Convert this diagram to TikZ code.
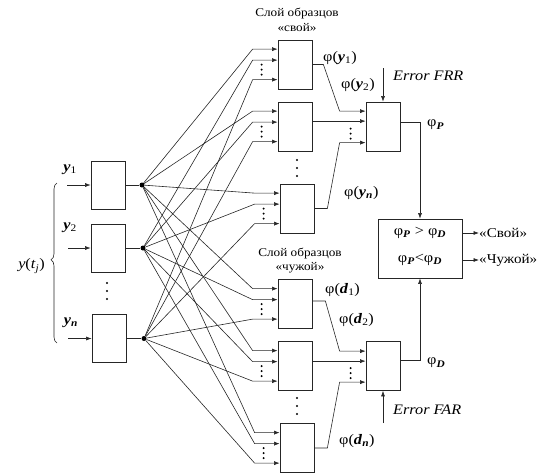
\documentclass[tikz,border=0pt]{standalone}
\usepackage{fontspec}
\setmainfont{Liberation Serif}[FakeStretch=1.12]
\usetikzlibrary{arrows.meta,calc,decorations.pathreplacing}
\newcommand{\bvar}[1]{\textbf{\textit{#1}}}
\begin{document}
\begin{tikzpicture}[x=1pt,y=-1pt,
  box/.style={draw=black!85, line width=0.75pt, minimum width=34pt, minimum height=49pt, inner sep=0pt},
  arr/.style={-{Latex[length=5.5pt,width=4pt]}},
  wire/.style={draw=black!85, line width=0.6pt},
  jdot/.style={circle, fill=black, inner sep=0pt, minimum size=5pt},
  lab/.style={font=\fontsize{14.5}{16}\selectfont, inner sep=0pt},
  ttl/.style={font=\fontsize{11.8}{13}\selectfont, inner sep=0pt},
  outl/.style={font=\fontsize{13.5}{15}\selectfont, inner sep=0pt}
]
\useasboundingbox (0,0) rectangle (542,475);

% ---------- input layer ----------
\node[box, minimum height=48pt] (I1) at (108,185) {};
\node[box, minimum height=48pt] (I2) at (108,248) {};
\node[box, minimum height=48pt] (In) at (109,338.5) {};
\foreach \yy in {283,291,299} \fill (107,\yy) circle (1.1pt);

\node[lab] (ly1) at (70,170) {\bvar{y}\textsubscript{1}};
\node[lab] (ly2) at (70,228) {\bvar{y}\textsubscript{2}};
\node[lab] (lyn) at (71,323) {\bvar{y}\textsubscript{\bvar{n}}};
\coordinate (x1) at (67,185);
\coordinate (x2) at (68,248);
\coordinate (xn) at (68,338.5);
\draw[wire,arr] (x1) -- (I1.west);
\draw[wire,arr] (x2) -- (I2.west);
\draw[wire,arr] (xn) -- (In.west);

\draw[wire, decorate, decoration={brace, amplitude=6pt, aspect=0.52}] (57,343) -- (57,183);
\node[lab, anchor=east] (ytj) at (45,266) {\textit{y}(\textit{t}\textsubscript{\textit{j}})};

\node[jdot] (d1) at (142,185) {};
\node[jdot] (d2) at (143,248) {};
\node[jdot] (dn) at (144,338.5) {};
\draw[wire] (I1.east) -- (d1);
\draw[wire] (I2.east) -- (d2);
\draw[wire] (In.east) -- (dn);

% ---------- pattern layers ----------
\foreach \b/\cx/\cy in {P1/295/64.5, P2/295/126.5, P3/297/208.5, D1/295/304, D2/295/366, D3/297/448}
  \node[box] (\b) at (\cx,\cy) {};

\foreach \b in {P1,P2,P3,D1,D2,D3}{
  \draw[wire,arr] (d1) -- ($(\b.north west)+(-25,9.5)$) -- ($(\b.north west)+(0,9.5)$);
  \draw[wire,arr] (d2) -- ($(\b.north west)+(-25,20.5)$) -- ($(\b.north west)+(0,20.5)$);
  \draw[wire,arr] (dn) -- ($(\b.north west)+(-25,40)$) -- ($(\b.north west)+(0,40)$);
  \foreach \dy in {25,30,35} \fill ($(\b.north west)+(-16,\dy)$) circle (1.1pt);
}
\foreach \yy in {160,168,176} \fill (297,\yy) circle (1.1pt);
\foreach \yy in {398,406,414} \fill (297,\yy) circle (1.1pt);

\node[ttl] (t1) at (297,14) {Слой образцов};
\node[ttl] (t2) at (297,28) {«свой»};
\node[ttl] (t3) at (300,254) {Слой образцов};
\node[ttl] (t4) at (300,268) {«чужой»};

% ---------- summing boxes ----------
\node[box] (S1) at (383,126.5) {};
\node[box] (S2) at (383,366) {};
\coordinate (S1b) at ($(S1.north west)+(0,19.5)$);
\coordinate (S2b) at ($(S2.north west)+(0,20)$);

\draw[wire,arr] (P1.east) -- ++(11,0) -- ($(S1.north west)+(-26,9.5)$) -- ($(S1.north west)+(0,9.5)$);
\draw[wire,arr] (P2.east |- S1b) -- (S1b);
\draw[wire,arr] (P3.east) -- ++(13,0) -- ($(S1.north west)+(-26,41)$) -- ($(S1.north west)+(0,41)$);
\draw[wire,arr] ($(D1.east)+(0,-3)$) -- ++(13,0) -- ($(S2.north west)+(-26,10)$) -- ($(S2.north west)+(0,10)$);
\draw[wire,arr] (D2.east |- S2b) -- (S2b);
\draw[wire,arr] (D3.east) -- ++(13,0) -- ($(S2.north west)+(-26,41)$) -- ($(S2.north west)+(0,41)$);
\foreach \dy in {27,32,37} {
  \fill ($(S1.north west)+(-15,\dy)$) circle (1.1pt);
  \fill ($(S2.north west)+(-15,\dy)$) circle (1.1pt);
}

\node[lab, anchor=west] (py1) at (323,58) {φ(\bvar{y}\textsubscript{1})};
\node[lab, anchor=west] (py2) at (341,85) {φ(\bvar{y}\textsubscript{2})};
\node[lab, anchor=west] (pyn) at (344,193) {φ(\bvar{y}\textsubscript{\bvar{n}})};
\node[lab, anchor=west] (pd1) at (325,290) {φ(\bvar{d}\textsubscript{1})};
\node[lab, anchor=west] (pd2) at (339,320) {φ(\bvar{d}\textsubscript{2})};
\node[lab, anchor=west] (pdn) at (339,441) {φ(\bvar{d}\textsubscript{\bvar{n}})};

\coordinate (frr) at (383,68);
\coordinate (far) at (383,423);
\draw[wire,arr] (frr) -- (S1.north);
\draw[wire,arr] (far) -- (S2.south);
\node[lab, anchor=west] (frrl) at (393,76) {\textit{Error FRR}};
\node[lab, anchor=west] (farl) at (393,410) {\textit{Error FAR}};

% ---------- decision ----------
\node[box, minimum width=84pt, minimum height=59pt] (dec) at (420,248.5) {};
\node[lab] (c1) at (420,233) {φ\textsubscript{\bvar{P}} > φ\textsubscript{\bvar{D}}};
\node[lab] (c2) at (420,260) {φ\textsubscript{\bvar{P}}<φ\textsubscript{\bvar{D}}};
\draw[wire,arr] ($(S1.east)+(0,-4)$) -| (dec.north);
\draw[wire,arr] ($(S2.east)+(0,-6)$) -| (dec.south);
\node[lab, anchor=west] (phP) at (427,125) {φ\textsubscript{\bvar{P}}};
\node[lab, anchor=west] (phD) at (427,363) {φ\textsubscript{\bvar{D}}};

\node[outl, anchor=west] (own) at (479,233) {«Свой»};
\node[outl, anchor=west] (alien) at (479,260) {«Чужой»};
\draw[wire,arr] (dec.east |- own) -- (own.west);
\draw[wire,arr] (dec.east |- alien) -- (alien.west);
\end{tikzpicture}
\end{document}
